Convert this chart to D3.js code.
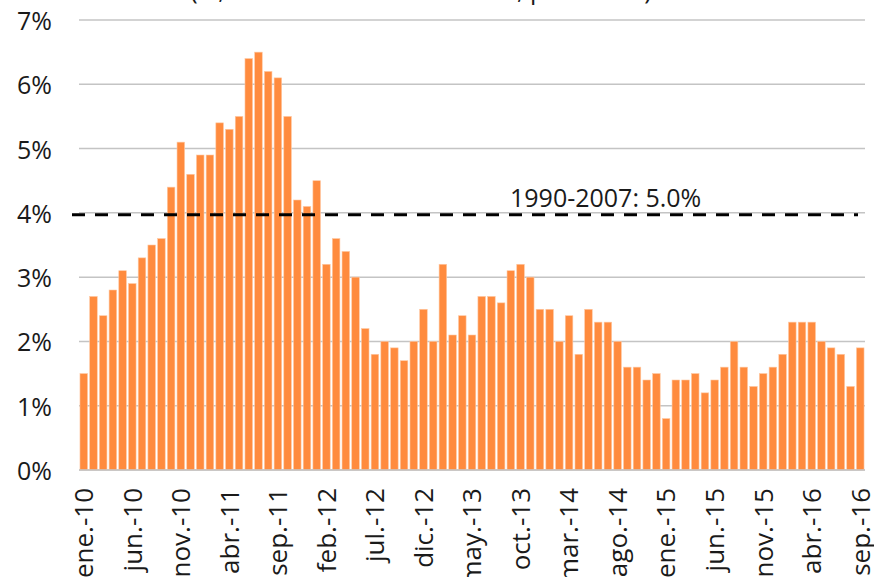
<!DOCTYPE html>
<html>
<head>
<meta charset="utf-8">
<script src="https://cdn.jsdelivr.net/npm/d3@7"></script>
<style>
  body { margin: 0; background: #fff; }
  svg text { font-family: "Open Sans", "Noto Sans", sans-serif; fill: #1a1a1a; }
</style>
</head>
<body>
<svg id="chart"></svg>
<script>
// monthly values, ene.-10 .. sep.-16 (%)
const months = ["ene.", "feb.", "mar.", "abr.", "may.", "jun.", "jul.", "ago.", "sep.", "oct.", "nov.", "dic."];
const values = [
    1.5, 2.7, 2.4, 2.8, 3.1, 2.9, 3.3, 3.5, 3.6, 4.4, 5.1, 4.6,   // 2010
    4.9, 4.9, 5.4, 5.3, 5.5, 6.4, 6.5, 6.2, 6.1, 5.5, 4.2, 4.1,   // 2011
    4.5, 3.2, 3.6, 3.4, 3.0, 2.2, 1.8, 2.0, 1.9, 1.7, 2.0, 2.5,   // 2012
    2.0, 3.2, 2.1, 2.4, 2.1, 2.7, 2.7, 2.6, 3.1, 3.2, 3.0, 2.5,   // 2013
    2.5, 2.0, 2.4, 1.8, 2.5, 2.3, 2.3, 2.0, 1.6, 1.6, 1.4, 1.5,   // 2014
    0.8, 1.4, 1.4, 1.5, 1.2, 1.4, 1.6, 2.0, 1.6, 1.3, 1.5, 1.6,   // 2015
    1.8, 2.3, 2.3, 2.3, 2.0, 1.9, 1.8, 1.3, 1.9                   // 2016
];
const yTicks = [0, 1, 2, 3, 4, 5, 6, 7];
const refValue = 3.97;
const refLabel = "1990-2007: 5.0%";
const titleText = "(%, variación en doce meses, promedio)";

// build category labels like "ene.-10"
const data = values.map((v, i) => ({
    label: months[i % 12] + "-" + String(10 + Math.floor(i / 12)),
    value: v
}));
const shownLabels = data.filter((d, i) => i % 5 === 0).map(d => d.label);

const width = 874;
const height = 577;
const margin = { top: 20, right: 9, bottom: 107, left: 79 };

const svg = d3.select("#chart")
    .attr("width", width)
    .attr("height", height);

const xScale = d3.scaleBand()
    .domain(data.map(d => d.label))
    .range([margin.left, width - margin.right])
    .paddingInner(0.22)
    .paddingOuter(0.1);

const yScale = d3.scaleLinear()
    .domain([0, 7])
    .range([height - margin.bottom, margin.top]);

// title (mostly cut off at the top, as in the original)
svg.append("text")
    .attr("x", 421)
    .attr("y", -1)
    .attr("text-anchor", "middle")
    .style("font-size", "25px")
    .text(titleText);

// gridlines
svg.append("g")
    .selectAll("line")
    .data(yTicks)
    .enter().append("line")
    .attr("x1", margin.left)
    .attr("x2", width - margin.right)
    .attr("y1", d => yScale(d))
    .attr("y2", d => yScale(d))
    .attr("stroke", "#c4c4c4")
    .attr("stroke-width", 1.5);

// y axis labels
const yAxis = svg.append("g")
    .attr("transform", `translate(${margin.left}, 0)`)
    .call(d3.axisLeft(yScale).tickValues(yTicks).tickFormat(d => d + "%").tickSize(0).tickPadding(27));
yAxis.select(".domain").remove();
yAxis.selectAll("text")
    .style("font-size", "25px")
    .attr("fill", "#1a1a1a")
    .attr("dy", "0.38em");

// bars
svg.append("g")
    .selectAll("rect")
    .data(data)
    .enter().append("rect")
    .attr("x", d => xScale(d.label))
    .attr("y", d => yScale(d.value))
    .attr("width", xScale.bandwidth())
    .attr("height", d => yScale(0) - yScale(d.value))
    .attr("fill", "#ff8b3e")
    .attr("stroke", "#ffc9a3")
    .attr("stroke-width", 0.6);

// baseline
svg.append("line")
    .attr("x1", margin.left)
    .attr("x2", width - margin.right)
    .attr("y1", yScale(0))
    .attr("y2", yScale(0))
    .attr("stroke", "#c4c4c4")
    .attr("stroke-width", 1.5);

// x axis labels, rotated
const xAxis = svg.append("g")
    .attr("transform", `translate(0, ${yScale(0)})`)
    .call(d3.axisBottom(xScale).tickValues(shownLabels).tickSize(0).tickPadding(0));
xAxis.select(".domain").remove();
xAxis.selectAll("text")
    .style("font-size", "26px")
    .attr("fill", "#1a1a1a")
    .attr("text-anchor", "end")
    .attr("transform", "rotate(-90)")
    .attr("x", -18)
    .attr("y", 0)
    .attr("dy", "0.36em");

// reference dashed line
svg.append("line")
    .attr("x1", 72)
    .attr("x2", 858)
    .attr("y1", yScale(refValue))
    .attr("y2", yScale(refValue))
    .attr("stroke", "#000")
    .attr("stroke-width", 3)
    .attr("stroke-dasharray", "13,10");

svg.append("text")
    .attr("x", 510)
    .attr("y", 207)
    .style("font-size", "25px")
    .text(refLabel);
</script>
</body>
</html>
